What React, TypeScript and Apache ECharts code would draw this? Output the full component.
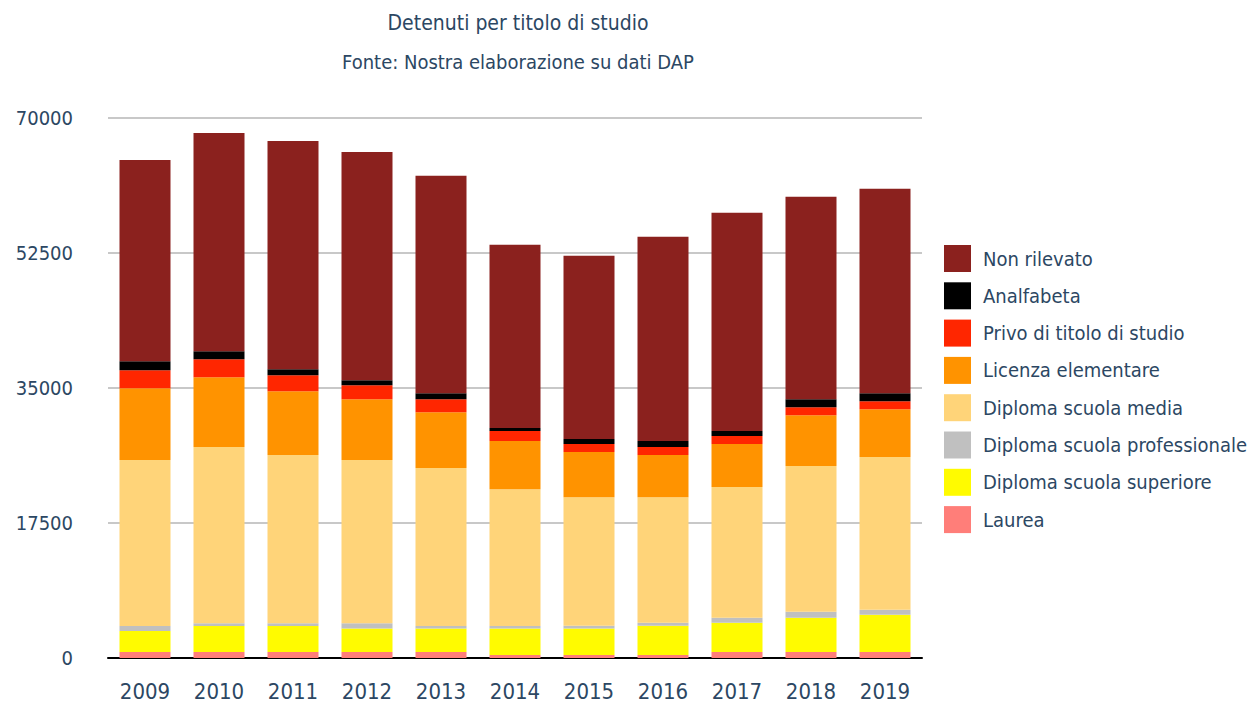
import React, { useEffect, useRef } from "react";
import * as echarts from "echarts";

const years = ["2009", "2010", "2011", "2012", "2013", "2014", "2015", "2016", "2017", "2018", "2019"];
const laurea = [780, 780, 780, 780, 780, 400, 400, 400, 780, 780, 780];
const superiore = [2720, 3360, 3360, 3060, 3060, 3440, 3440, 3770, 3780, 4430, 4820];
const professionale = [640, 350, 350, 650, 300, 300, 330, 390, 650, 780, 650];
const media = [21520, 22850, 21820, 21170, 20480, 17730, 16660, 16270, 16960, 18890, 19800];
const licenza = [9310, 9060, 8280, 7890, 7250, 6250, 5870, 5480, 5560, 6600, 6210];
const privo = [2330, 2320, 2070, 1810, 1680, 1290, 1030, 1030, 1040, 1040, 1030];
const analfabeta = [1170, 1040, 770, 650, 780, 390, 650, 780, 640, 1030, 1040];
const nonRilevato = [26090, 28300, 29600, 29590, 28170, 23770, 23770, 26480, 28300, 26230, 26490];
const yTicks = [0, 17500, 35000, 52500, 70000];

const seriesDefs = [
  { name: "Laurea", data: laurea, color: "#FF7E79" },
  { name: "Diploma scuola superiore", data: superiore, color: "#FFFB00" },
  { name: "Diploma scuola professionale", data: professionale, color: "#C0C0C0" },
  { name: "Diploma scuola media", data: media, color: "#FFD479" },
  { name: "Licenza elementare", data: licenza, color: "#FF9300" },
  { name: "Privo di titolo di studio", data: privo, color: "#FF2600" },
  { name: "Analfabeta", data: analfabeta, color: "#000000" },
  { name: "Non rilevato", data: nonRilevato, color: "#8B211E" },
];

const FONT = "'DejaVu Sans Condensed', 'DejaVu Sans', sans-serif";
const TXT = "#2c4763";

export default function App() {
  const ref = useRef<HTMLDivElement>(null);
  useEffect(() => {
    if (!ref.current) return;
    const chart = echarts.init(ref.current, null, { renderer: "svg" });
    chart.setOption({
      animation: false,
      backgroundColor: "#ffffff",
      title: [
        {
          text: "Detenuti per titolo di studio",
          left: 513,
          top: 7,
          textAlign: "center",
          textStyle: { fontFamily: FONT, fontSize: 21, fontWeight: "normal", color: TXT },
        },
        {
          text: "Fonte: Nostra elaborazione su dati DAP",
          left: 513,
          top: 47,
          textAlign: "center",
          textStyle: { fontFamily: FONT, fontSize: 20, fontWeight: "normal", color: TXT },
        },
      ],
      legend: {
        orient: "vertical",
        left: 939,
        top: 240,
        itemWidth: 27,
        itemHeight: 27,
        itemGap: 10.3,
        icon: "rect",
        data: seriesDefs.map((s) => s.name).reverse(),
        textStyle: { fontFamily: FONT, fontSize: 20, color: TXT, padding: [0, 0, 0, 7] },
      },
      grid: { left: 108, right: 337, top: 118, bottom: 43, containLabel: false },
      xAxis: {
        type: "category",
        data: years,
        axisLine: { lineStyle: { color: "#000000", width: 2 } },
        axisTick: { show: false },
        axisLabel: { fontFamily: FONT, fontSize: 22, color: TXT, margin: 22 },
      },
      yAxis: {
        type: "value",
        min: 0,
        max: 70000,
        interval: 17500,
        axisLine: { show: false },
        axisTick: { show: false },
        splitLine: { lineStyle: { color: "#c8c8c8", width: 2 } },
        axisLabel: {
          fontFamily: FONT,
          fontSize: 20,
          color: TXT,
          margin: 35,
          customValues: yTicks,
          formatter: (v: number) => String(v),
        },
      },
      series: seriesDefs.map((s) => ({
        name: s.name,
        type: "bar",
        stack: "total",
        barWidth: 51,
        data: s.data,
        itemStyle: { color: s.color },
      })),
    });
    return () => chart.dispose();
  }, []);
  return <div ref={ref} style={{ width: 1259, height: 702, position: "absolute", left: 0, top: 0 }} />;
}
